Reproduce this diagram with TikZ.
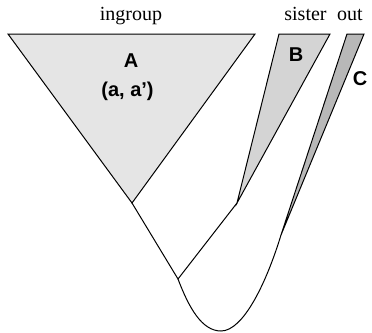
\documentclass[tikz,border=0pt]{standalone}
\usepackage{fontspec}
\setmainfont{Liberation Serif}
\newfontfamily\labfont{Liberation Sans}
\begin{document}
\begin{tikzpicture}[x=1pt,y=-1pt,line width=1pt,line join=miter,
  clade/.style={draw=black},
  serlab/.style={font=\fontsize{20}{22}\selectfont, anchor=base, inner sep=0pt},
  boldlab/.style={font=\labfont\bfseries\fontsize{20}{22}\selectfont, anchor=base, inner sep=0pt}]
\useasboundingbox (0,0) rectangle (372,332);
% clade corners
\coordinate (A1) at (8,34);
\coordinate (A2) at (255,34);
\coordinate (Aa) at (132,203);
\coordinate (B1) at (279,34);
\coordinate (B2) at (330,34);
\coordinate (Ba) at (237,203);
\coordinate (C1) at (347,34);
\coordinate (C2) at (364,34);
\coordinate (Ca) at (281,235);
\coordinate (N) at (178,279);
\coordinate (R) at (221,331);
% clades
\filldraw[clade, fill=black!10] (A1) -- (A2) -- (Aa) -- cycle;
\filldraw[clade, fill=black!17] (B1) -- (B2) -- (Ba) -- cycle;
\filldraw[clade, fill=black!28] (C1) -- (C2) -- (Ca) -- cycle;
% branches
\draw (Aa) -- (N) -- (Ba);
\draw (N) .. controls (189,308) and (202,331) .. (R)
          .. controls (243,331) and (266,284) .. (Ca);
% labels
\node[serlab] (ting) at (131,20.5) {ingroup};
\node[serlab] (tsis) at (305.5,20.5) {sister};
\node[serlab] (tout) at (350,20.5) {out};
\node[boldlab] (tA) at (131,67.5) {A};
\node[boldlab] (ta) at (127.5,96) {(a, a’)};
\node[boldlab] (tB) at (296,61.5) {B};
\node[boldlab] (tC) at (360,85) {C};
\end{tikzpicture}
\end{document}
